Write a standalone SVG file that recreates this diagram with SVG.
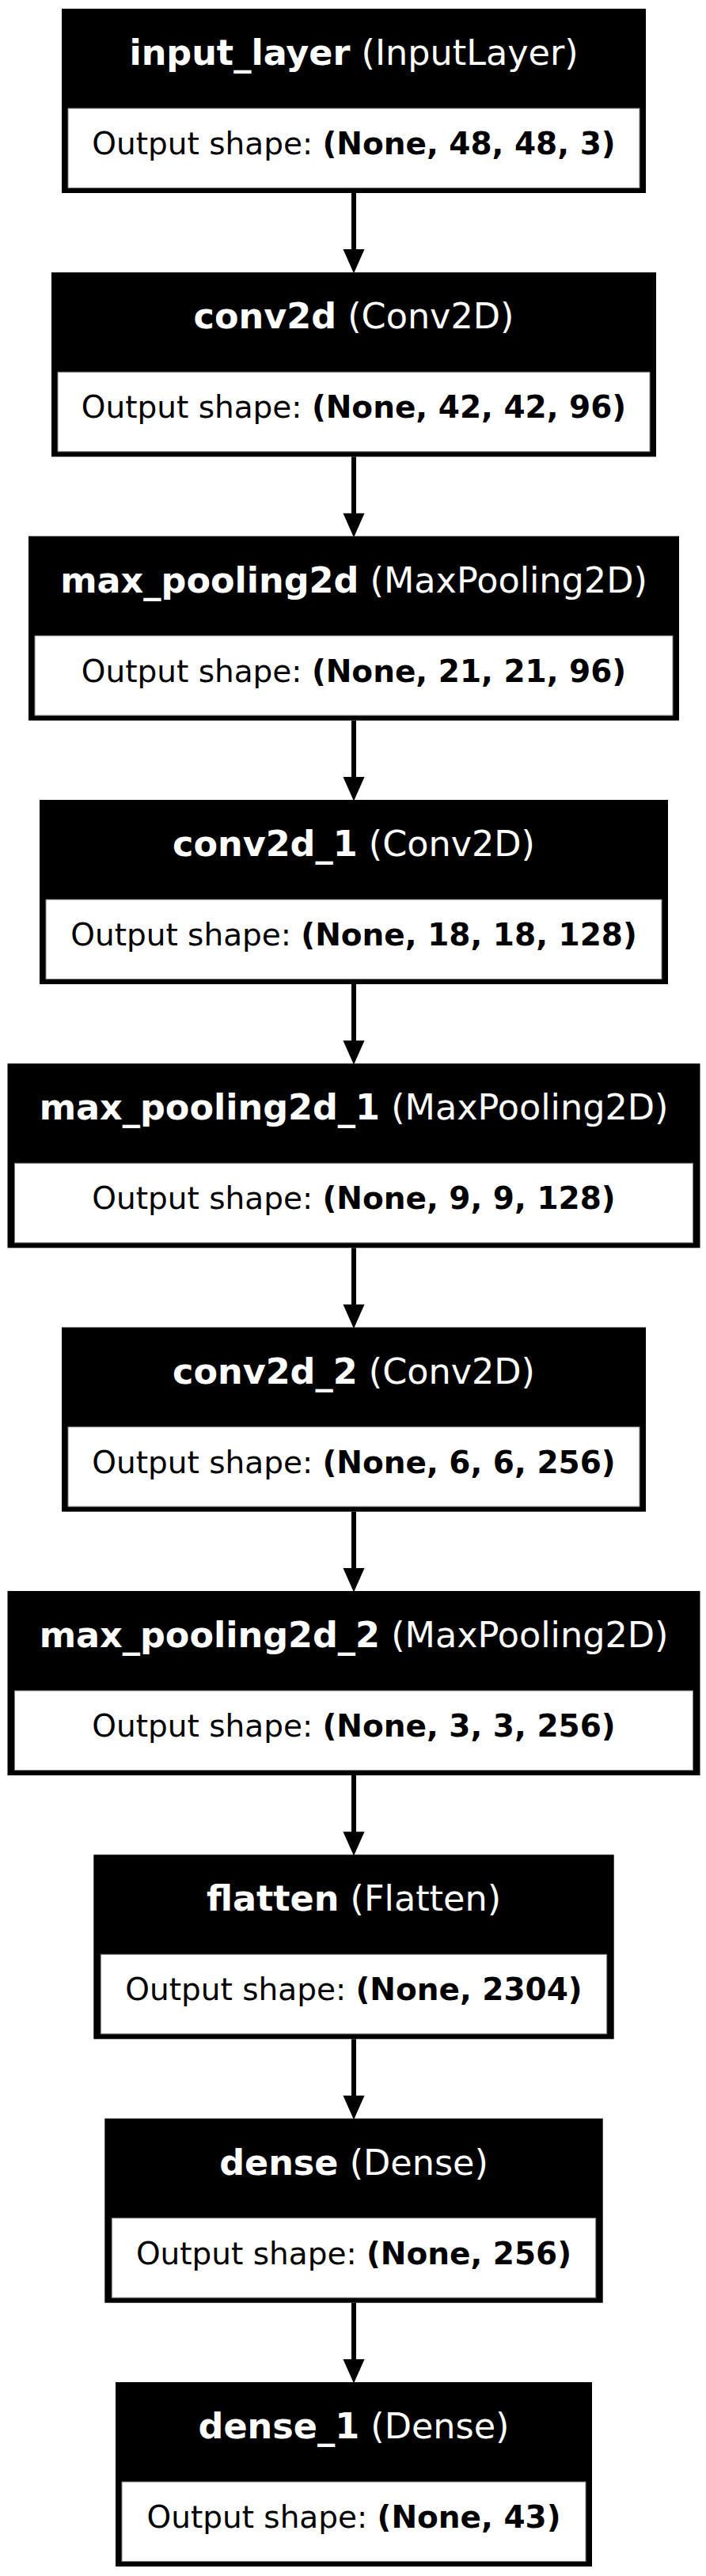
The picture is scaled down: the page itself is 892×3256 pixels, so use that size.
<svg xmlns="http://www.w3.org/2000/svg" width="892" height="3256" viewBox="0 0 892 3256">
<style>
.bg{fill:#ffffff}
.outer{fill:#000000}
.cell{fill:#ffffff;stroke:#808080;stroke-width:1}
.title{font-family:"DejaVu Sans",sans-serif;font-size:44.5px;fill:#ffffff;text-anchor:middle}
.shape{font-family:"DejaVu Sans",sans-serif;font-size:39px;fill:#000000;text-anchor:middle}
.b{font-weight:bold}
.edge{stroke:#000000;stroke-width:6;fill:none}
.head{fill:#000000;stroke:#000000;stroke-width:2}
</style>
<rect class="bg" x="0" y="0" width="892" height="3256"/>
<g id="connectors">
<line class="edge" x1="447" y1="244" x2="447" y2="318"/><polygon class="head" points="435,316 459,316 447,343"/>
<line class="edge" x1="447" y1="577.3" x2="447" y2="651.7"/><polygon class="head" points="435,649.7 459,649.7 447,676.7"/>
<line class="edge" x1="447" y1="910.7" x2="447" y2="985"/><polygon class="head" points="435,983 459,983 447,1010"/>
<line class="edge" x1="447" y1="1244" x2="447" y2="1318.3"/><polygon class="head" points="435,1316.3 459,1316.3 447,1343.3"/>
<line class="edge" x1="447" y1="1577.3" x2="447" y2="1651.7"/><polygon class="head" points="435,1649.7 459,1649.7 447,1676.7"/>
<line class="edge" x1="447" y1="1910.7" x2="447" y2="1985"/><polygon class="head" points="435,1983 459,1983 447,2010"/>
<line class="edge" x1="447" y1="2244" x2="447" y2="2318.3"/><polygon class="head" points="435,2316.3 459,2316.3 447,2343.3"/>
<line class="edge" x1="447" y1="2577.3" x2="447" y2="2651.7"/><polygon class="head" points="435,2649.7 459,2649.7 447,2676.7"/>
<line class="edge" x1="447" y1="2910.7" x2="447" y2="2985"/><polygon class="head" points="435,2983 459,2983 447,3010"/>
</g>
<g id="node-input_layer">
<rect class="outer" x="78" y="11" width="738" height="233"/>
<rect class="cell" x="86" y="137" width="722" height="100.5"/>
<text class="title" x="447" y="82"><tspan class="b">input_layer</tspan> (InputLayer)</text>
<text class="shape" x="447" y="195">Output shape: <tspan class="b">(None, 48, 48, 3)</tspan></text>
</g>
<g id="node-conv2d">
<rect class="outer" x="65" y="344.3" width="764" height="233"/>
<rect class="cell" x="73" y="470.3" width="748" height="100.5"/>
<text class="title" x="447" y="415.3"><tspan class="b">conv2d</tspan> (Conv2D)</text>
<text class="shape" x="447" y="528.3">Output shape: <tspan class="b">(None, 42, 42, 96)</tspan></text>
</g>
<g id="node-max_pooling2d">
<rect class="outer" x="36" y="677.7" width="822" height="233"/>
<rect class="cell" x="44" y="803.7" width="806" height="100.5"/>
<text class="title" x="447" y="748.7"><tspan class="b">max_pooling2d</tspan> (MaxPooling2D)</text>
<text class="shape" x="447" y="861.7">Output shape: <tspan class="b">(None, 21, 21, 96)</tspan></text>
</g>
<g id="node-conv2d_1">
<rect class="outer" x="50" y="1011" width="794" height="233"/>
<rect class="cell" x="58" y="1137" width="778" height="100.5"/>
<text class="title" x="447" y="1082"><tspan class="b">conv2d_1</tspan> (Conv2D)</text>
<text class="shape" x="447" y="1195">Output shape: <tspan class="b">(None, 18, 18, 128)</tspan></text>
</g>
<g id="node-max_pooling2d_1">
<rect class="outer" x="9.5" y="1344.3" width="875" height="233"/>
<rect class="cell" x="18.5" y="1470.3" width="857" height="100.5"/>
<text class="title" x="447" y="1415.3"><tspan class="b">max_pooling2d_1</tspan> (MaxPooling2D)</text>
<text class="shape" x="447" y="1528.3">Output shape: <tspan class="b">(None, 9, 9, 128)</tspan></text>
</g>
<g id="node-conv2d_2">
<rect class="outer" x="78" y="1677.7" width="738" height="233"/>
<rect class="cell" x="86" y="1803.7" width="722" height="100.5"/>
<text class="title" x="447" y="1748.7"><tspan class="b">conv2d_2</tspan> (Conv2D)</text>
<text class="shape" x="447" y="1861.7">Output shape: <tspan class="b">(None, 6, 6, 256)</tspan></text>
</g>
<g id="node-max_pooling2d_2">
<rect class="outer" x="9.5" y="2011" width="875" height="233"/>
<rect class="cell" x="18.5" y="2137" width="857" height="100.5"/>
<text class="title" x="447" y="2082"><tspan class="b">max_pooling2d_2</tspan> (MaxPooling2D)</text>
<text class="shape" x="447" y="2195">Output shape: <tspan class="b">(None, 3, 3, 256)</tspan></text>
</g>
<g id="node-flatten">
<rect class="outer" x="118.3" y="2344.3" width="657.4" height="233"/>
<rect class="cell" x="127.3" y="2470.3" width="639.4" height="100.5"/>
<text class="title" x="447" y="2415.3"><tspan class="b">flatten</tspan> (Flatten)</text>
<text class="shape" x="447" y="2528.3">Output shape: <tspan class="b">(None, 2304)</tspan></text>
</g>
<g id="node-dense">
<rect class="outer" x="132.3" y="2677.7" width="629.4" height="233"/>
<rect class="cell" x="141.3" y="2803.7" width="611.4" height="100.5"/>
<text class="title" x="447" y="2748.7"><tspan class="b">dense</tspan> (Dense)</text>
<text class="shape" x="447" y="2861.7">Output shape: <tspan class="b">(None, 256)</tspan></text>
</g>
<g id="node-dense_1">
<rect class="outer" x="146" y="3011" width="602" height="233"/>
<rect class="cell" x="154" y="3137" width="586" height="100.5"/>
<text class="title" x="447" y="3082"><tspan class="b">dense_1</tspan> (Dense)</text>
<text class="shape" x="447" y="3195">Output shape: <tspan class="b">(None, 43)</tspan></text>
</g>
</svg>
